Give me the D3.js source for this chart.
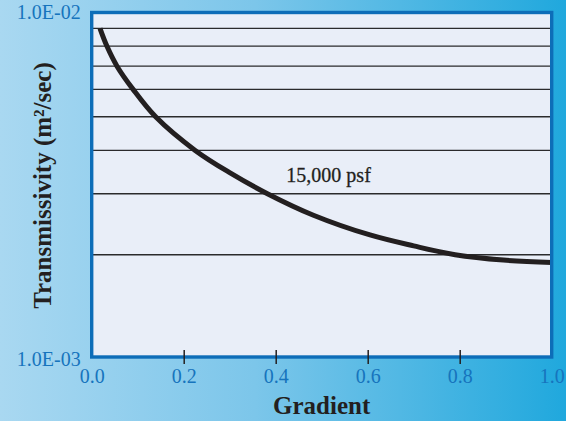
<!DOCTYPE html>
<html>
<head>
<meta charset="utf-8">
<script src="https://cdn.jsdelivr.net/npm/d3@7"></script>
<style>
  html, body { margin: 0; padding: 0; overflow: hidden; }
  svg { display: block; }
</style>
</head>
<body>
<svg id="chart" width="566" height="421"></svg>
<script>
// ---- data ----
const gradientValues = [0.018, 0.033, 0.055, 0.09, 0.139, 0.225, 0.30, 0.382, 0.482, 0.605, 0.70, 0.79, 0.895, 1.0];
const transmissivityValues = [9.0e-3, 8.0e-3, 7.0e-3, 6.0e-3, 5.0e-3, 4.0e-3, 3.45e-3, 3.0e-3, 2.60e-3, 2.28e-3, 2.12e-3, 2.0e-3, 1.93e-3, 1.90e-3];
const xTickValues = [0, 0.2, 0.4, 0.6, 0.8, 1.0];
const xTickLabels = ["0.0", "0.2", "0.4", "0.6", "0.8", "1.0"];
const xInnerTicks = [0.2, 0.4, 0.6, 0.8];
const yTickValues = [1e-3, 1e-2];
const yTickLabels = ["1.0E-03", "1.0E-02"];
const yGridValues = [2e-3, 3e-3, 4e-3, 5e-3, 6e-3, 7e-3, 8e-3, 9e-3];
const seriesLabel = "15,000 psf";
const xTitle = "Gradient";
const yTitle = "Transmissivity (m²/sec)";

// ---- layout ----
const svg = d3.select("#chart");
const W = 566, H = 421;
const plot = { left: 91.7, right: 551.7, top: 12.5, bottom: 357 };
const serif = "'Liberation Serif', 'DejaVu Serif', serif";
const blue = "#1674bd";
const ink = "#231f20";

const x = d3.scaleLinear().domain([0, 1]).range([plot.left, plot.right]);
const y = d3.scaleLog().domain([1e-3, 1e-2]).range([359, 12.5]);

// background gradient
const defs = svg.append("defs");
const bg = defs.append("linearGradient").attr("id", "bg").attr("x1", "0").attr("x2", "1").attr("y1", "0").attr("y2", "0");
bg.append("stop").attr("offset", "0%").attr("stop-color", "#a9d8f1");
bg.append("stop").attr("offset", "45%").attr("stop-color", "#7cc6ea");
bg.append("stop").attr("offset", "100%").attr("stop-color", "#20a8dd");
svg.append("rect").attr("width", W).attr("height", H).attr("fill", "url(#bg)");

// plot fill
svg.append("rect")
  .attr("x", plot.left).attr("y", plot.top)
  .attr("width", plot.right - plot.left).attr("height", plot.bottom - plot.top)
  .attr("fill", "#e9eef8");

// gridlines
svg.append("g").selectAll("line").data(yGridValues).join("line")
  .attr("x1", plot.left).attr("x2", plot.right)
  .attr("y1", d => y(d)).attr("y2", d => y(d))
  .attr("stroke", "#2a2a2c").attr("stroke-width", 1.4);

// curve
const pts = gradientValues.map((g, i) => [g, transmissivityValues[i]]);
const line = d3.line().x(d => x(d[0])).y(d => y(d[1])).curve(d3.curveCatmullRom.alpha(0.5));
svg.append("path").datum(pts)
  .attr("d", line)
  .attr("fill", "none").attr("stroke", ink).attr("stroke-width", 5);

// frame
svg.append("rect")
  .attr("x", plot.left).attr("y", plot.top)
  .attr("width", plot.right - plot.left).attr("height", plot.bottom - plot.top)
  .attr("fill", "none").attr("stroke", "#0d6db8").attr("stroke-width", 3.4);

// inner ticks on the bottom
const tickAxis = d3.axisBottom(x).tickValues(xInnerTicks).tickSize(14).tickFormat("");
const tg = svg.append("g").attr("transform", `translate(0,${plot.bottom - 7})`).call(tickAxis);
tg.select(".domain").remove();
tg.selectAll(".tick line").attr("stroke", ink).attr("stroke-width", 1.5);

// x axis labels
const xAxis = d3.axisBottom(x).tickValues(xTickValues).tickSize(0).tickPadding(12)
  .tickFormat((d, i) => xTickLabels[i]);
const xg = svg.append("g").attr("transform", `translate(0,${plot.bottom})`).call(xAxis);
xg.select(".domain").remove();
xg.selectAll("text").attr("font-family", serif).attr("font-size", 20).attr("fill", blue);

// y axis labels
const yAxis = d3.axisLeft(y).tickValues(yTickValues).tickSize(0).tickPadding(11)
  .tickFormat((d, i) => yTickLabels[i]);
const yg = svg.append("g").attr("transform", `translate(${plot.left},0)`).call(yAxis);
yg.select(".domain").remove();
yg.selectAll("text").attr("font-family", serif).attr("font-size", 20).attr("fill", blue);

// series annotation
svg.append("text")
  .attr("x", x(0.515)).attr("y", 182)
  .attr("text-anchor", "middle")
  .attr("font-family", serif).attr("font-size", 20).attr("fill", ink)
  .attr("stroke", ink).attr("stroke-width", 0.3)
  .text(seriesLabel);

// axis titles
svg.append("text")
  .attr("x", (plot.left + plot.right) / 2).attr("y", 414)
  .attr("text-anchor", "middle")
  .attr("font-family", serif).attr("font-weight", "bold").attr("font-size", 25).attr("fill", ink)
  .text(xTitle);

svg.append("text")
  .attr("transform", `translate(51,185.5) rotate(-90)`)
  .attr("text-anchor", "middle")
  .attr("font-family", serif).attr("font-weight", "bold").attr("font-size", 25).attr("fill", ink)
  .text(yTitle);
</script>
</body>
</html>
